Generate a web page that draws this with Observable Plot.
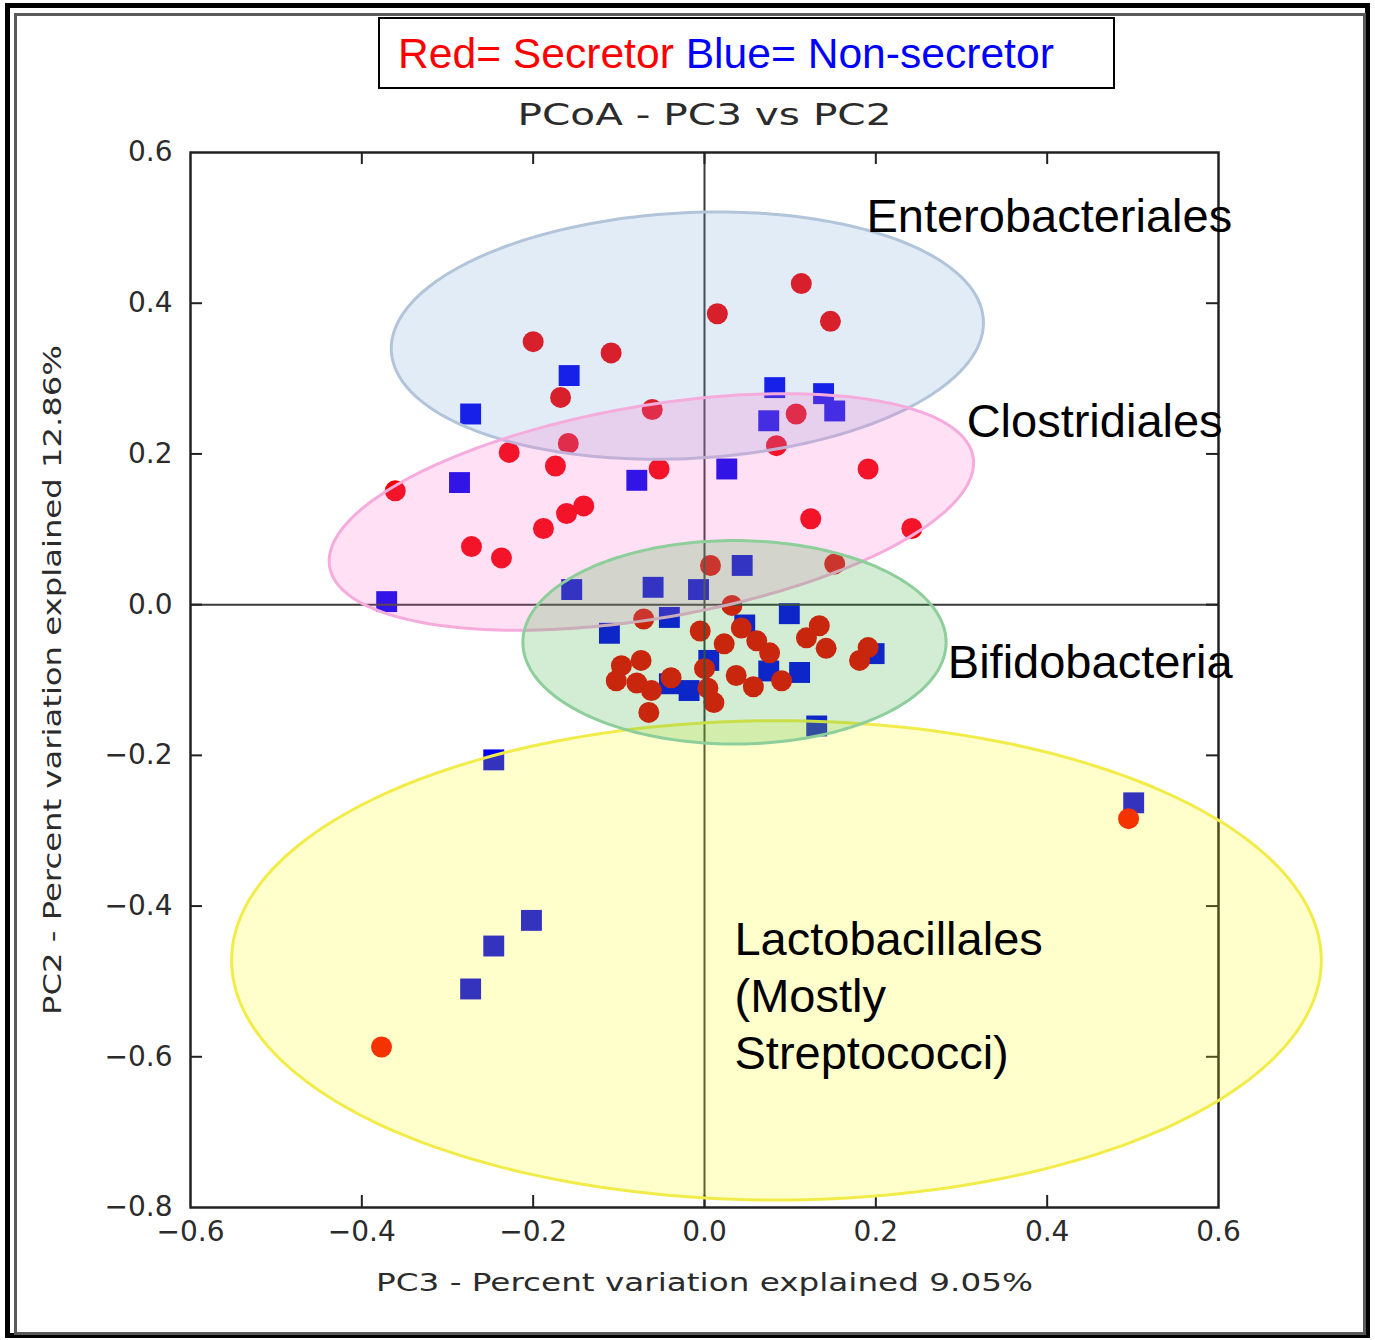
<!DOCTYPE html>
<html>
<head>
<meta charset="utf-8">
<script src="https://cdn.jsdelivr.net/npm/d3@7"></script>
<script src="https://cdn.jsdelivr.net/npm/@observablehq/plot@0.6"></script>
<style>
  html, body { margin: 0; padding: 0; background: #fff; }
  #page { position: relative; width: 1375px; height: 1340px; overflow: hidden; background: #fff; }
  #chart { position: absolute; left: 0; top: 0; }
  .outer { position: absolute; left: 5px; top: 3px; width: 1365px; height: 1335px; border: 5px solid #000; box-sizing: border-box; pointer-events: none; }
  .inner { position: absolute; left: 14px; top: 13px; width: 1352px; height: 1322px; border: 3px solid #5a5a5a; box-sizing: border-box; pointer-events: none; }
  .legend { position: absolute; left: 378px; top: 17px; width: 737px; height: 72px; border: 2px solid #000; box-sizing: border-box; background: #fff;
    font-family: "Liberation Sans", Arial, sans-serif; font-size: 42.6px; line-height: 68px; padding-left: 18px; white-space: nowrap; }
  .legend .r { color: #ff0000; }
  .legend .b { color: #0000ff; }
</style>
</head>
<body>
<div id="page">
  <div id="chart"></div>
  <div class="outer"></div>
  <div class="inner"></div>
  <div class="legend"><span class="r">Red= Secretor</span> <span class="b">Blue= Non-secretor</span></div>
</div>
<script>
// ---------- data ----------
const titleText = "PCoA - PC3 vs PC2";
const xLabelText = "PC3 - Percent variation explained 9.05%";
const yLabelText = "PC2 - Percent variation explained 12.86%";

const xTickValues = [-0.6, -0.4, -0.2, 0.0, 0.2, 0.4, 0.6];
const yTickValues = [0.6, 0.4, 0.2, 0.0, -0.2, -0.4, -0.6, -0.8];

// Secretor samples (red circles)
const secretorX = [-0.361, -0.272, -0.237, -0.228, -0.200, -0.188, -0.174, -0.168, -0.159, -0.161, -0.141, -0.109,
  -0.061, -0.053, 0.015, 0.107, 0.084, 0.113, 0.147, 0.191, 0.124, 0.242, 0.152, 0.007,
  0.032, -0.071, -0.005, 0.043, 0.061, 0.076, 0.023, 0.134, 0.119, 0.142, 0.191, 0.181,
  -0.097, -0.074, -0.103, -0.079, -0.062, 0.000, 0.004, 0.011, 0.037, 0.057, 0.090, -0.065, -0.039,
  -0.377, 0.495];
const secretorY = [0.151, 0.077, 0.062, 0.202, 0.349, 0.101, 0.184, 0.275, 0.214, 0.121, 0.131, 0.334,
  0.259, 0.180, 0.386, 0.253, 0.211, 0.426, 0.376, 0.180, 0.114, 0.101, 0.054, 0.052,
  -0.001, -0.019, -0.035, -0.031, -0.048, -0.064, -0.052, -0.028, -0.044, -0.058, -0.057, -0.074,
  -0.081, -0.074, -0.101, -0.104, -0.114, -0.085, -0.111, -0.130, -0.094, -0.109, -0.101, -0.143, -0.097,
  -0.587, -0.284];

// Non-secretor samples (blue squares)
const nonSecretorX = [-0.273, -0.158, -0.286, -0.079, 0.026, 0.082, 0.139, 0.152, 0.075, -0.371,
  -0.155, -0.060, -0.007, 0.044, -0.111, -0.041, 0.099, 0.047, 0.005, -0.041, -0.018, 0.075, 0.111, 0.198,
  0.131, -0.246, -0.202, -0.246, -0.273, 0.501];
const nonSecretorY = [0.253, 0.304, 0.162, 0.165, 0.180, 0.288, 0.280, 0.257, 0.244, 0.004,
  0.020, 0.023, 0.020, 0.052, -0.038, -0.017, -0.012, -0.027, -0.074, -0.105, -0.114, -0.088, -0.090, -0.065,
  -0.161, -0.206, -0.419, -0.453, -0.510, -0.263];

// Group ellipses (centre, semi-axes in data units, tilt in degrees)
const ellipseNames = ["Lactobacillales", "Enterobacteriales", "Clostridiales", "Bifidobacteria"];
const ellipseCX = [0.084, -0.020, -0.062, 0.035];
const ellipseCY = [-0.472, 0.357, 0.123, -0.050];
const ellipseRX = [0.636, 0.346, 0.381, 0.247];
const ellipseRY = [0.318, 0.163, 0.141, 0.135];
const ellipseAngle = [0, 3, 9.7, 0];
const ellipseFill = ["#ffff00", "#6fa0d8", "#ff66cc", "#38ac40"];
const ellipseFillOpacity = [0.2, 0.2, 0.2, 0.22];
const ellipseStroke = ["#f2ec4a", "#b2c4da", "#f5acdc", "#8dce9a"];

// Group labels
const groupLabels = ["Enterobacteriales", "Clostridiales", "Bifidobacteria", "Lactobacillales\n(Mostly\nStreptococci)"];
const groupLabelX = [0.189, 0.306, 0.284, 0.035];
const groupLabelY = [0.519, 0.247, -0.073, -0.516];

// ---------- chart ----------
const W = 1375, H = 1340;
const mL = 190, mR = 157, mT = 152, mB = 133;
const xDomain = [-0.6, 0.6], yDomain = [-0.8, 0.6];
const plotW = W - mL - mR, plotH = H - mT - mB;
const sx = plotW / (xDomain[1] - xDomain[0]);
const sy = plotH / (yDomain[1] - yDomain[0]);

const secretor = secretorX.map((x, i) => ({x, y: secretorY[i]}));
const nonSecretor = nonSecretorX.map((x, i) => ({x, y: nonSecretorY[i]}));
const labels = groupLabels.map((t, i) => ({t, x: groupLabelX[i], y: groupLabelY[i]}));

function ellipseOutline(i) {
  const th = ellipseAngle[i] * Math.PI / 180;
  const a = ellipseRX[i] * sx, b = ellipseRY[i] * sy;
  const pts = [];
  for (let k = 0; k < 240; k++) {
    const t = 2 * Math.PI * k / 240;
    const dx = a * Math.cos(t) * Math.cos(th) - b * Math.sin(t) * Math.sin(th);
    const dy = a * Math.cos(t) * Math.sin(th) + b * Math.sin(t) * Math.cos(th);
    pts.push({x: ellipseCX[i] + dx / sx, y: ellipseCY[i] + dy / sy});
  }
  return pts;
}

const ellipseMarks = ellipseNames.map((n, i) => Plot.line(ellipseOutline(i), {
  x: "x", y: "y", curve: "linear-closed",
  fill: ellipseFill[i], fillOpacity: ellipseFillOpacity[i],
  stroke: ellipseStroke[i], strokeWidth: 3
}));

const innerX = xTickValues.filter(v => v > xDomain[0] && v < xDomain[1]);
const innerY = yTickValues.filter(v => v > yDomain[0] && v < yDomain[1]);
const tickLen = 12;

const chart = Plot.plot({
  width: W, height: H,
  marginLeft: mL, marginRight: mR, marginTop: mT, marginBottom: mB,
  x: {domain: xDomain},
  y: {domain: yDomain},
  style: {background: "transparent", fontFamily: "'DejaVu Sans', sans-serif", fontSize: "28px", color: "#2b2b2b", overflow: "visible"},
  marks: [
    Plot.dot(nonSecretor, {x: "x", y: "y", symbol: "square", r: 11.8, fill: "#0000ee"}),
    Plot.dot(secretor, {x: "x", y: "y", r: 10.5, fill: "#f20000"}),
    Plot.ruleX([0], {stroke: "#3a3a3a", strokeWidth: 2}),
    Plot.ruleY([0], {stroke: "#3a3a3a", strokeWidth: 2}),
    Plot.frame({stroke: "#222", strokeWidth: 2.5}),
    Plot.tickX(innerX, {x: d => d, insetTop: plotH - tickLen, stroke: "#222", strokeWidth: 2}),
    Plot.tickX(innerX, {x: d => d, insetBottom: plotH - tickLen, stroke: "#222", strokeWidth: 2}),
    Plot.tickY(innerY, {y: d => d, insetRight: plotW - tickLen, stroke: "#222", strokeWidth: 2}),
    Plot.tickY(innerY, {y: d => d, insetLeft: plotW - tickLen, stroke: "#222", strokeWidth: 2}),
    Plot.axisX(xTickValues, {tickSize: 0, tickPadding: 14, tickFormat: ".1f", label: null}),
    Plot.axisY(yTickValues, {tickSize: 0, tickPadding: 18, tickFormat: ".1f", label: null}),
    ...ellipseMarks,
    Plot.text(labels, {x: "x", y: "y", text: "t", textAnchor: "start", lineAnchor: "middle", lineHeight: 1.22,
      fontFamily: "'Liberation Sans', Arial, sans-serif", fontSize: 47, fill: "#000"}),
    Plot.text([titleText], {frameAnchor: "top", dy: -37, textAnchor: "middle", lineAnchor: "middle", fontSize: 31, fill: "#2b2b2b"}),
    Plot.text([xLabelText], {frameAnchor: "bottom", dy: 75, textAnchor: "middle", lineAnchor: "middle", fontSize: 25, fill: "#2b2b2b"}),
    Plot.text([yLabelText], {frameAnchor: "left", dx: -138, rotate: -90, textAnchor: "middle", lineAnchor: "middle", fontSize: 25, fill: "#2b2b2b"})
  ]
});

function stretch(str, len) {
  chart.querySelectorAll("text").forEach(t => {
    if (t.textContent === str) {
      t.setAttribute("textLength", len);
      t.setAttribute("lengthAdjust", "spacingAndGlyphs");
    }
  });
}
stretch(titleText, 374);
stretch(xLabelText, 657);
stretch(yLabelText, 670);

document.getElementById("chart").appendChild(chart);
</script>
</body>
</html>
